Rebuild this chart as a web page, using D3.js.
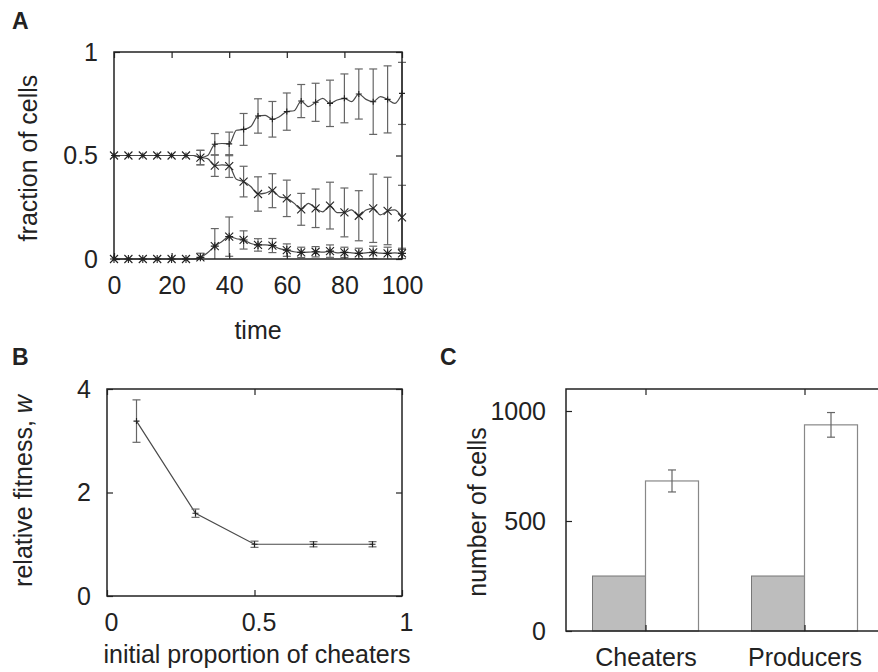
<!DOCTYPE html>
<html>
<head>
<meta charset="utf-8">
<script src="https://cdn.jsdelivr.net/npm/d3@7"></script>
<style>
  body { margin: 0; background: #fff; }
  svg { display: block; font-family: "Liberation Sans", Arial, sans-serif; }
  .tick text { font-size: 25px; fill: #222; }
  .tick line { stroke: #222; stroke-width: 1.2; }
</style>
</head>
<body>
<svg width="878" height="672"></svg>
<script>
// ---- panel A : fraction of cells over time ----
var barTimes = [0, 5, 10, 15, 20, 25, 30, 35, 40, 45, 50, 55, 60, 65, 70, 75, 80, 85, 90, 95, 100];
var topMean = [0.5, 0.5, 0.5, 0.5, 0.5, 0.5, 0.49, 0.554, 0.556, 0.626, 0.691, 0.675, 0.712, 0.763, 0.757, 0.752, 0.776, 0.797, 0.76, 0.771, 0.80];
var topErr  = [0, 0, 0, 0, 0, 0, 0.035, 0.052, 0.057, 0.077, 0.083, 0.086, 0.09, 0.08, 0.092, 0.112, 0.118, 0.121, 0.158, 0.162, 0.15];
var midMean = [0.5, 0.5, 0.5, 0.5, 0.5, 0.5, 0.49, 0.451, 0.449, 0.374, 0.314, 0.33, 0.293, 0.24, 0.245, 0.258, 0.225, 0.209, 0.245, 0.232, 0.201];
var midErr  = [0, 0, 0, 0, 0, 0, 0.035, 0.052, 0.055, 0.074, 0.083, 0.082, 0.088, 0.077, 0.093, 0.113, 0.118, 0.121, 0.165, 0.163, 0.155];
var botMean = [0, 0, 0, 0, 0, 0, 0.008, 0.062, 0.108, 0.092, 0.068, 0.065, 0.043, 0.032, 0.035, 0.038, 0.032, 0.027, 0.032, 0.027, 0.027];
var botErr  = [0, 0, 0, 0, 0, 0, 0.02, 0.085, 0.095, 0.044, 0.03, 0.034, 0.03, 0.025, 0.025, 0.03, 0.025, 0.025, 0.03, 0.03, 0.025];

var lineTimes = [0, 2.5, 5, 7.5, 10, 12.5, 15, 17.5, 20, 22.5, 25, 27.5, 30, 32.5, 35, 37.5, 40, 42.5, 45, 47.5, 50,
                 52.5, 55, 57.5, 60, 62.5, 65, 67.5, 70, 72.5, 75, 77.5, 80, 82.5, 85, 87.5, 90, 92.5, 95, 97.5, 100];
var topLine = [0.5, 0.5, 0.5, 0.5, 0.5, 0.5, 0.5, 0.5, 0.5, 0.5, 0.5, 0.5, 0.49, 0.50, 0.554, 0.558, 0.556, 0.622, 0.626, 0.64, 0.691,
               0.694, 0.675, 0.688, 0.712, 0.716, 0.763, 0.736, 0.757, 0.776, 0.752, 0.768, 0.776, 0.76, 0.797, 0.771, 0.76, 0.784, 0.771, 0.752, 0.80];
var midLine = [0.5, 0.5, 0.5, 0.5, 0.5, 0.5, 0.5, 0.5, 0.5, 0.5, 0.5, 0.5, 0.49, 0.485, 0.451, 0.455, 0.449, 0.385, 0.374, 0.35, 0.314,
               0.318, 0.33, 0.30, 0.293, 0.27, 0.24, 0.269, 0.245, 0.228, 0.258, 0.224, 0.225, 0.237, 0.209, 0.237, 0.245, 0.213, 0.232, 0.237, 0.201];
var botLine = [0, 0, 0, 0, 0, 0, 0, 0, 0, 0, 0, 0, 0.008, 0.03, 0.062, 0.085, 0.108, 0.098, 0.092, 0.075, 0.068,
               0.068, 0.065, 0.05, 0.043, 0.035, 0.032, 0.033, 0.035, 0.033, 0.038, 0.03, 0.032, 0.03, 0.027, 0.03, 0.032, 0.028, 0.027, 0.03, 0.027];

var timeTicks = [0, 20, 40, 60, 80, 100];
var fracTicks = [0, 0.5, 1];

// ---- panel B : relative fitness ----
var propX = [0.1, 0.3, 0.5, 0.7, 0.9];
var fitness = [3.38, 1.6, 1.0, 1.0, 1.0];
var fitnessErr = [0.41, 0.08, 0.06, 0.05, 0.05];
var propTicks = [0, 0.5, 1];
var fitTicks = [0, 2, 4];

// ---- panel C : number of cells ----
var groups = ["Cheaters", "Producers"];
var initialCells = [250, 250];
var finalCells = [682, 937];
var finalErr = [50, 56];
var cellTicks = [0, 500, 1000];

var svg = d3.select("svg");
var ink = "#222", lineCol = "#4a4a4a", barCol = "#666";

function border(g, x0, x1, y0, y1) {
    g.append("rect")
        .attr("x", x0).attr("y", y1)
        .attr("width", x1 - x0).attr("height", y0 - y1)
        .attr("fill", "none").attr("stroke", ink).attr("stroke-width", 1.5);
}

// inward ticks on all 4 sides, labels only left / bottom
function axes(g, x, y, xt, yt, xfmt, yfmt, padX, padY) {
    var xr = x.range(), yr = y.range();
    g.append("g").attr("class", "xlab").attr("transform", "translate(0," + yr[0] + ")")
        .call(d3.axisBottom(x).tickValues(xt).tickFormat(xfmt).tickSizeInner(-6).tickSizeOuter(0).tickPadding(padX))
        .call(function(s) { s.select(".domain").remove(); });
    g.append("g").attr("transform", "translate(0," + yr[1] + ")")
        .call(d3.axisTop(x).tickValues(xt).tickFormat("").tickSizeInner(-6).tickSizeOuter(0))
        .call(function(s) { s.select(".domain").remove(); });
    g.append("g").attr("transform", "translate(" + xr[0] + ",0)")
        .call(d3.axisLeft(y).tickValues(yt).tickFormat(yfmt).tickSizeInner(-6).tickSizeOuter(0).tickPadding(padY))
        .call(function(s) { s.select(".domain").remove(); });
    g.append("g").attr("transform", "translate(" + xr[1] + ",0)")
        .call(d3.axisRight(y).tickValues(yt).tickFormat("").tickSizeInner(-6).tickSizeOuter(0))
        .call(function(s) { s.select(".domain").remove(); });
}

function errorBars(g, xs, ys, es, x, y, half, lo, hi) {
    for (var i = 0; i < xs.length; i++) {
        if (!es[i]) continue;
        var a = ys[i] + es[i], b = ys[i] - es[i];
        var cx = x(xs[i]);
        var top = y(Math.min(a, hi)), bot = y(Math.max(b, lo));
        g.append("line").attr("x1", cx).attr("x2", cx).attr("y1", top).attr("y2", bot)
            .attr("stroke", barCol).attr("stroke-width", 1.2);
        if (a <= hi) g.append("line").attr("x1", cx - half).attr("x2", cx + half).attr("y1", top).attr("y2", top)
            .attr("stroke", barCol).attr("stroke-width", 1.2);
        if (b >= lo) g.append("line").attr("x1", cx - half).attr("x2", cx + half).attr("y1", bot).attr("y2", bot)
            .attr("stroke", barCol).attr("stroke-width", 1.2);
    }
}

function marker(g, cx, cy, type, r) {
    var p = "";
    if (type === "+" || type === "*") p += "M" + (cx - r) + "," + cy + "H" + (cx + r) + "M" + cx + "," + (cy - r) + "V" + (cy + r);
    if (type === "x" || type === "*") p += "M" + (cx - r) + "," + (cy - r) + "L" + (cx + r) + "," + (cy + r) +
        "M" + (cx - r) + "," + (cy + r) + "L" + (cx + r) + "," + (cy - r);
    g.append("path").attr("d", p).attr("stroke", ink).attr("stroke-width", 1.1).attr("fill", "none");
}

function label(txt, x, y, opts) {
    var t = svg.append("text").attr("x", x).attr("y", y).text(txt)
        .attr("font-size", opts.size || 25).attr("fill", ink)
        .attr("text-anchor", opts.anchor || "middle");
    if (opts.bold) t.attr("font-weight", "bold");
    if (opts.rotate) t.attr("transform", "rotate(-90," + x + "," + y + ")");
    return t;
}

// ================= A =================
var gA = svg.append("g");
var xA = d3.scaleLinear().domain([0, 100]).range([114, 402]);
var yA = d3.scaleLinear().domain([0, 1]).range([259, 52]);

var lineA = d3.line().x(function(d) { return xA(d[0]); }).y(function(d) { return yA(d[1]); }).curve(d3.curveMonotoneX);
[topLine, midLine, botLine].forEach(function(vals) {
    gA.append("path")
        .attr("d", lineA(lineTimes.map(function(t, i) { return [t, vals[i]]; })))
        .attr("fill", "none").attr("stroke", lineCol).attr("stroke-width", 1.2);
});

errorBars(gA, barTimes, topMean, topErr, xA, yA, 4, 0, 1);
errorBars(gA, barTimes, midMean, midErr, xA, yA, 4, 0, 1);
errorBars(gA, barTimes, botMean, botErr, xA, yA, 4, 0, 1);

barTimes.forEach(function(t, i) {
    marker(gA, xA(t), yA(topMean[i]), "+", 3);
    marker(gA, xA(t), yA(midMean[i]), "x", 4);
    marker(gA, xA(t), yA(botMean[i]), "*", 4);
});

border(gA, 114, 402, 259, 52);
axes(gA, xA, yA, timeTicks, fracTicks, d3.format("d"), function(d) { return d === 0.5 ? "0.5" : d3.format("d")(d); }, 17, 16);

label("A", 12, 29, { size: 23, bold: true, anchor: "start" });
label("fraction of cells", 37, 158, { rotate: true });
label("time", 258, 339, {});

// ================= B =================
var gB = svg.append("g");
var xB = d3.scaleLinear().domain([0, 1]).range([107, 402]);
var yB = d3.scaleLinear().domain([0, 4]).range([596, 389]);

gB.append("path")
    .attr("d", d3.line().x(function(d, i) { return xB(propX[i]); }).y(function(d) { return yB(d); })(fitness))
    .attr("fill", "none").attr("stroke", lineCol).attr("stroke-width", 1.2);
errorBars(gB, propX, fitness, fitnessErr, xB, yB, 4, 0, 4);
propX.forEach(function(p, i) { marker(gB, xB(p), yB(fitness[i]), "+", 3); });

border(gB, 107, 402, 596, 389);
axes(gB, xB, yB, propTicks, fitTicks, function(d) { return d === 0.5 ? "0.5" : d3.format("d")(d); }, d3.format("d"), 17, 16);
gB.selectAll(".xlab .tick text").attr("dx", 4);

label("B", 12, 365, { size: 23, bold: true, anchor: "start" });
label("initial proportion of cheaters", 257, 663, {});
var yl = svg.append("text").attr("transform", "rotate(-90,32,491)").attr("x", 32).attr("y", 491)
    .attr("text-anchor", "middle").attr("font-size", 25).attr("fill", ink);
yl.append("tspan").text("relative fitness, ");
yl.append("tspan").attr("font-style", "italic").text("w");

// ================= C =================
var gC = svg.append("g");
var xC = d3.scaleLinear().domain([-0.5, 1.5]).range([566, 884]);
var yC = d3.scaleLinear().domain([0, 1100]).range([631, 389]);
var bw = 1 / 3;

groups.forEach(function(name, i) {
    gC.append("rect")
        .attr("x", xC(i - bw)).attr("y", yC(initialCells[i]))
        .attr("width", xC(i) - xC(i - bw)).attr("height", yC(0) - yC(initialCells[i]))
        .attr("fill", "#bdbdbd").attr("stroke", "#777").attr("stroke-width", 1);
    gC.append("rect")
        .attr("x", xC(i)).attr("y", yC(finalCells[i]))
        .attr("width", xC(i + bw) - xC(i)).attr("height", yC(0) - yC(finalCells[i]))
        .attr("fill", "#fff").attr("stroke", "#888").attr("stroke-width", 1.2);
});
errorBars(gC, [bw / 2, 1 + bw / 2], finalCells, finalErr, xC, yC, 4, 0, 1100);

border(gC, 566, 884, 631, 389);
axes(gC, xC, yC, [0, 1], cellTicks, function(d) { return groups[d]; }, d3.format("d"), 17, 20);

label("C", 440, 365, { size: 23, bold: true, anchor: "start" });
label("number of cells", 486, 512, { rotate: true });
</script>
</body>
</html>
